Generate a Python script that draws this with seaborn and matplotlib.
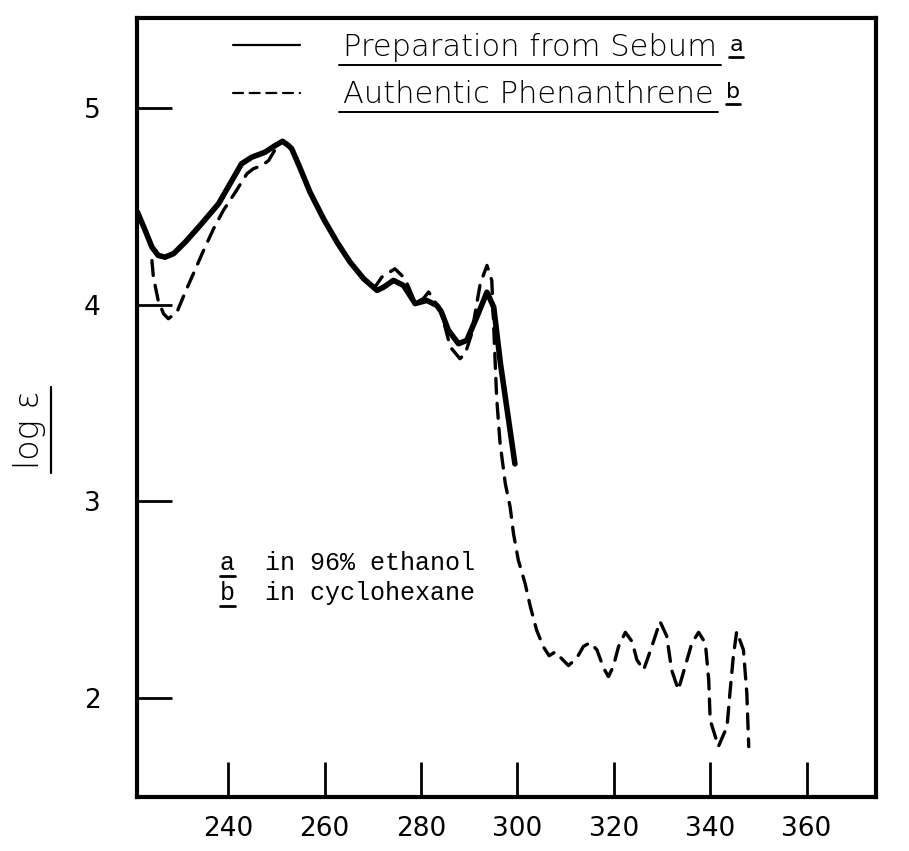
import numpy as np
import pandas as pd
import matplotlib.pyplot as plt
import seaborn as sns
from matplotlib.lines import Line2D

#********** data **********

# solid curve : preparation from sebum (96% ethanol)
sebum_nm = [221.2, 222.8, 224.2, 225.5, 226.9, 228.7, 231.1, 234.5, 238.0, 240.8,
            242.8, 244.9, 247.7, 249.8, 251.3, 252.5, 253.2, 255.0, 257.0, 259.8,
            262.6, 265.3, 268.1, 270.9, 272.3, 274.3, 276.4, 278.8, 281.2, 283.3,
            284.2, 285.7, 287.8, 289.5, 291.6, 293.7, 295.1, 296.5, 297.8, 299.5]
sebum_loge = [4.47, 4.377, 4.292, 4.250, 4.241, 4.259, 4.317, 4.411, 4.512, 4.631,
              4.716, 4.749, 4.775, 4.809, 4.830, 4.809, 4.792, 4.690, 4.571, 4.436,
              4.317, 4.216, 4.132, 4.072, 4.089, 4.123, 4.097, 4.005, 4.021, 3.996,
              3.965, 3.869, 3.801, 3.818, 3.937, 4.063, 3.987, 3.700, 3.479, 3.19]

# dashed curve : authentic phenanthrene (cyclohexane)
phen_nm = [224.2, 224.5, 225.5, 226.6, 227.6, 229.4, 231.1, 232.8, 234.9, 237.0,
           239.0, 241.5, 243.9, 245.2, 247.0, 248.4, 249.8, 251.3, 252.5, 253.2,
           255.0, 257.0, 259.8, 262.6, 265.3, 268.1, 270.5, 271.9, 274.6, 276.7,
           278.8, 280.5, 281.6, 282.8, 284.2, 286.1, 288.1, 289.2, 290.5, 292.3,
           293.7, 294.7, 295.7, 296.4, 297.5, 298.5, 299.2, 300.2, 301.6, 302.7,
           304.0, 305.4, 306.6, 307.9, 309.0, 310.6, 312.3, 313.7, 315.1, 316.5,
           317.9, 318.9, 319.9, 321.0, 322.4, 323.8, 324.8, 326.2, 327.9, 329.6,
           331.0, 332.0, 333.4, 334.8, 336.2, 337.6, 339.0, 339.7, 340.0, 341.7,
           343.5, 344.1, 344.8, 345.5, 346.9, 347.6, 348.0]
phen_loge = [4.224, 4.140, 4.021, 3.954, 3.928, 3.962, 4.063, 4.157, 4.275, 4.386,
             4.478, 4.571, 4.665, 4.690, 4.707, 4.732, 4.790, 4.830, 4.809, 4.792,
             4.690, 4.571, 4.436, 4.317, 4.216, 4.132, 4.09, 4.140, 4.182, 4.132,
             4.01, 4.03, 4.064, 4.02, 3.96, 3.784, 3.725, 3.751, 3.85, 4.106,
             4.199, 4.123, 3.530, 3.30, 3.090, 2.972, 2.836, 2.701, 2.583, 2.464,
             2.345, 2.26, 2.215, 2.235, 2.205, 2.165, 2.202, 2.262, 2.282, 2.245,
             2.152, 2.109, 2.16, 2.262, 2.334, 2.287, 2.194, 2.143, 2.262, 2.389,
             2.314, 2.143, 2.041, 2.16, 2.279, 2.334, 2.279, 2.092, 1.889, 1.753,
             1.855, 2.025, 2.211, 2.338, 2.245, 2.025, 1.753]

x_ticks = [240, 260, 280, 300, 320, 340, 360]
y_ticks = [2, 3, 4, 5]

labels = ['Preparation from Sebum', 'Authentic Phenanthrene']
sups = ['a', 'b']
notes = ['a  in 96% ethanol', 'b  in cyclohexane']

#********** plot **********

sns.set_style('white')
plt.rcParams['font.family'] = ['DejaVu Sans']
plt.rcParams['text.color'] = 'black'
plt.rcParams['xtick.color'] = 'black'
plt.rcParams['ytick.color'] = 'black'

fig = plt.figure(figsize=(9.09, 8.51), dpi=100)
ax = fig.add_axes([0.1507, 0.0635, 0.8130, 0.9154])

df_s = pd.DataFrame({'nm': sebum_nm, 'loge': sebum_loge})
df_p = pd.DataFrame({'nm': phen_nm, 'loge': phen_loge})

sns.lineplot(data=df_p, x='nm', y='loge', ax=ax, color='black', linewidth=2.4,
             linestyle='--', sort=False, estimator=None, label=labels[1])
sns.lineplot(data=df_s, x='nm', y='loge', ax=ax, color='black', linewidth=4,
             sort=False, estimator=None, label=labels[0])
for ln in ax.get_lines():
    if ln.get_linestyle() == '--':
        ln.set_dashes((4.5, 3))
        ln.set_dash_capstyle('round')
    ln.set_solid_capstyle('round')
    ln.set_solid_joinstyle('round')

ax.set_xlim(221.1, 374.4)
ax.set_ylim(1.497, 5.457)
ax.set_xticks(x_ticks)
ax.set_yticks(y_ticks)
ax.set_xlabel('')
ax.set_ylabel('')
ax.tick_params(axis='both', direction='in', length=25, width=2, color='black',
               labelsize=19, labelcolor='black', bottom=True, left=True)
ax.tick_params(axis='x', pad=14)
ax.tick_params(axis='y', pad=26)
for sp in ax.spines.values():
    sp.set_visible(True)
    sp.set_color('black')
    sp.set_linewidth(3)

# legend (solid first)
h, l = ax.get_legend_handles_labels()
order = [l.index(labels[0]), l.index(labels[1])]
leg = ax.legend([h[i] for i in order], [l[i] for i in order], loc='upper left',
                bbox_to_anchor=(0.093, 1.016), frameon=False,
                prop={'size': 22, 'weight': 'light'}, labelcolor='black',
                handlelength=2.2, handletextpad=1.4, labelspacing=0.6)
for ln in leg.get_lines():
    ln.set_linewidth(1.6)
    ln.set_color('black')

# solvent notes
t1 = ax.text(0.112, 0.300, notes[0], transform=ax.transAxes, fontsize=18,
             family='Liberation Mono', va='center')
t2 = ax.text(0.112, 0.262, notes[1], transform=ax.transAxes, fontsize=18,
             family='Liberation Mono', va='center')

# y label
ylab = fig.text(30 / 909, 1 - 430 / 851, 'log ε', rotation=90, fontsize=24,
                ha='center', va='center', weight='light')

#********** underlines, placed from the drawn text extents **********
fig.canvas.draw()
inv = fig.transFigure.inverted()


def hline(x0, x1, y, lw=1.4):
    (a, b), (c, d) = inv.transform([(x0, y), (x1, y)])
    fig.add_artist(Line2D([a, c], [b, d], color='black', lw=lw))


def vline(x, y0, y1, lw=1.4):
    (a, b), (c, d) = inv.transform([(x, y0), (x, y1)])
    fig.add_artist(Line2D([a, c], [b, d], color='black', lw=lw))


for txt, s in zip(leg.get_texts(), sups):
    bb = txt.get_window_extent()
    st = fig.text(*inv.transform((bb.x1 + 12, bb.y1 - 2)), s, fontsize=16,
                  va='top')
    fig.canvas.draw()
    sb = st.get_window_extent()
    hline(bb.x0 - 4, bb.x1 + 4, bb.y0 - 3)
    hline(sb.x0, sb.x1, sb.y0 - 2, lw=2)

for t in [t1, t2]:
    bb = t.get_window_extent()
    cw = bb.width / len(t.get_text())
    hline(bb.x0, bb.x0 + cw, bb.y0 - 1, lw=2)

yb = ylab.get_window_extent()
vline(yb.x1 + 4, yb.y0 - 4, yb.y1 + 4, lw=1.6)

fig.savefig('out.png', dpi=100)
